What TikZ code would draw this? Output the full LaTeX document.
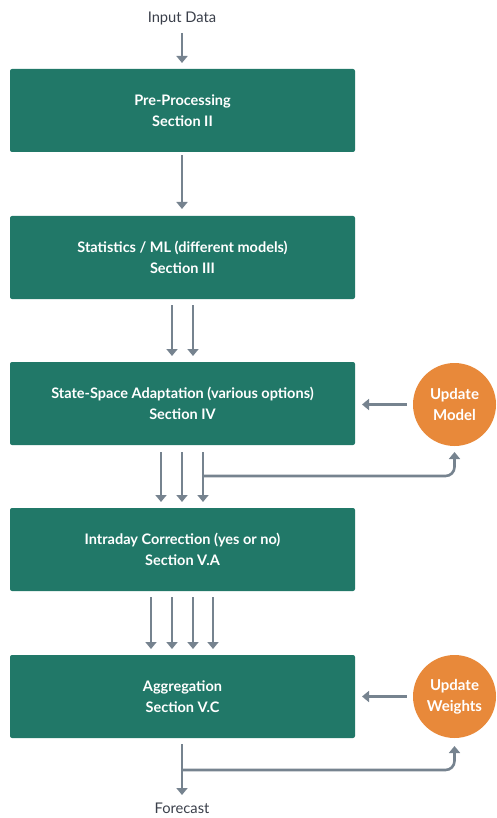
\documentclass[tikz,border=0pt]{standalone}
\usepackage{fontspec}
\setmainfont{Lato}
\usetikzlibrary{arrows.meta}
\definecolor{boxgreen}{HTML}{217868}
\definecolor{updorange}{HTML}{E8893A}
\definecolor{arrgray}{HTML}{76838F}
\definecolor{txtgray}{HTML}{3A3F4A}
\begin{document}
\begin{tikzpicture}[x=1pt,y=-1pt,
  stagebox/.style={fill=boxgreen, rounded corners=2pt, minimum width=345pt, minimum height=83pt, inner sep=0pt,
    text=white, font=\fontsize{14.5}{21}\selectfont\bfseries, align=center},
  updcirc/.style={circle, fill=updorange, minimum size=83pt, inner sep=0pt,
    text=white, font=\fontsize{15}{21}\selectfont\bfseries, align=center},
  plain/.style={text=txtgray, font=\fontsize{14.7}{16}\selectfont, inner sep=0pt, anchor=base},
  flow/.style={draw=arrgray, line width=2.6pt, -{Triangle[length=7pt,width=11pt]}},
  loopflow/.style={flow, rounded corners=9pt}
]
\useasboundingbox (0,0) rectangle (496,818);
\node[plain] (in) at (182,22.5) {Input Data};
\node[stagebox] (b1) at (182.5,110.5) {Pre-Processing\\Section II};
\node[stagebox] (b2) at (182.5,257.5) {Statistics / ML (different models)\\Section III};
\node[stagebox] (b3) at (182.5,403.5) {State-Space Adaptation (various options)\\Section IV};
\node[stagebox] (b4) at (182.5,549.5) {Intraday Correction (yes or no)\\Section V.A};
\node[stagebox] (b5) at (182.5,696.5) {Aggregation\\Section V.C};
\node[updcirc] (um) at (454.5,404.5) {Update\\Model};
\node[updcirc] (uw) at (454.5,696.5) {Update\\Weights};
\node[plain] (fc) at (182,813.5) {Forecast};

\coordinate (a0s) at (182,33);
\coordinate (a0e) at (182,63);
\draw[flow] (a0s) -- (a0e);
\draw[flow] (b1.south -| 182,0) ++(0,3) -- (182,209);
\draw[flow] (172,305) -- (172,356);
\draw[flow] (193,305) -- (193,356);
\draw[flow] (um.west) ++(-6,0) -- (362,404.5);
\draw[flow] (161,452) -- (161,502);
\draw[flow] (182,452) -- (182,502);
\draw[flow] (203,452) -- (203,502);
\draw[loopflow] (203,476) -- (454.5,476) -- (454.5,452);
\draw[flow] (151,597) -- (151,649);
\draw[flow] (172,597) -- (172,649);
\draw[flow] (193,597) -- (193,649);
\draw[flow] (213,597) -- (213,649);
\draw[flow] (uw.west) ++(-6,0) -- (362,696.5);
\draw[flow] (182,744) -- (182,795);
\draw[loopflow] (182,770) -- (454.5,770) -- (454.5,746);
\end{tikzpicture}
\end{document}
